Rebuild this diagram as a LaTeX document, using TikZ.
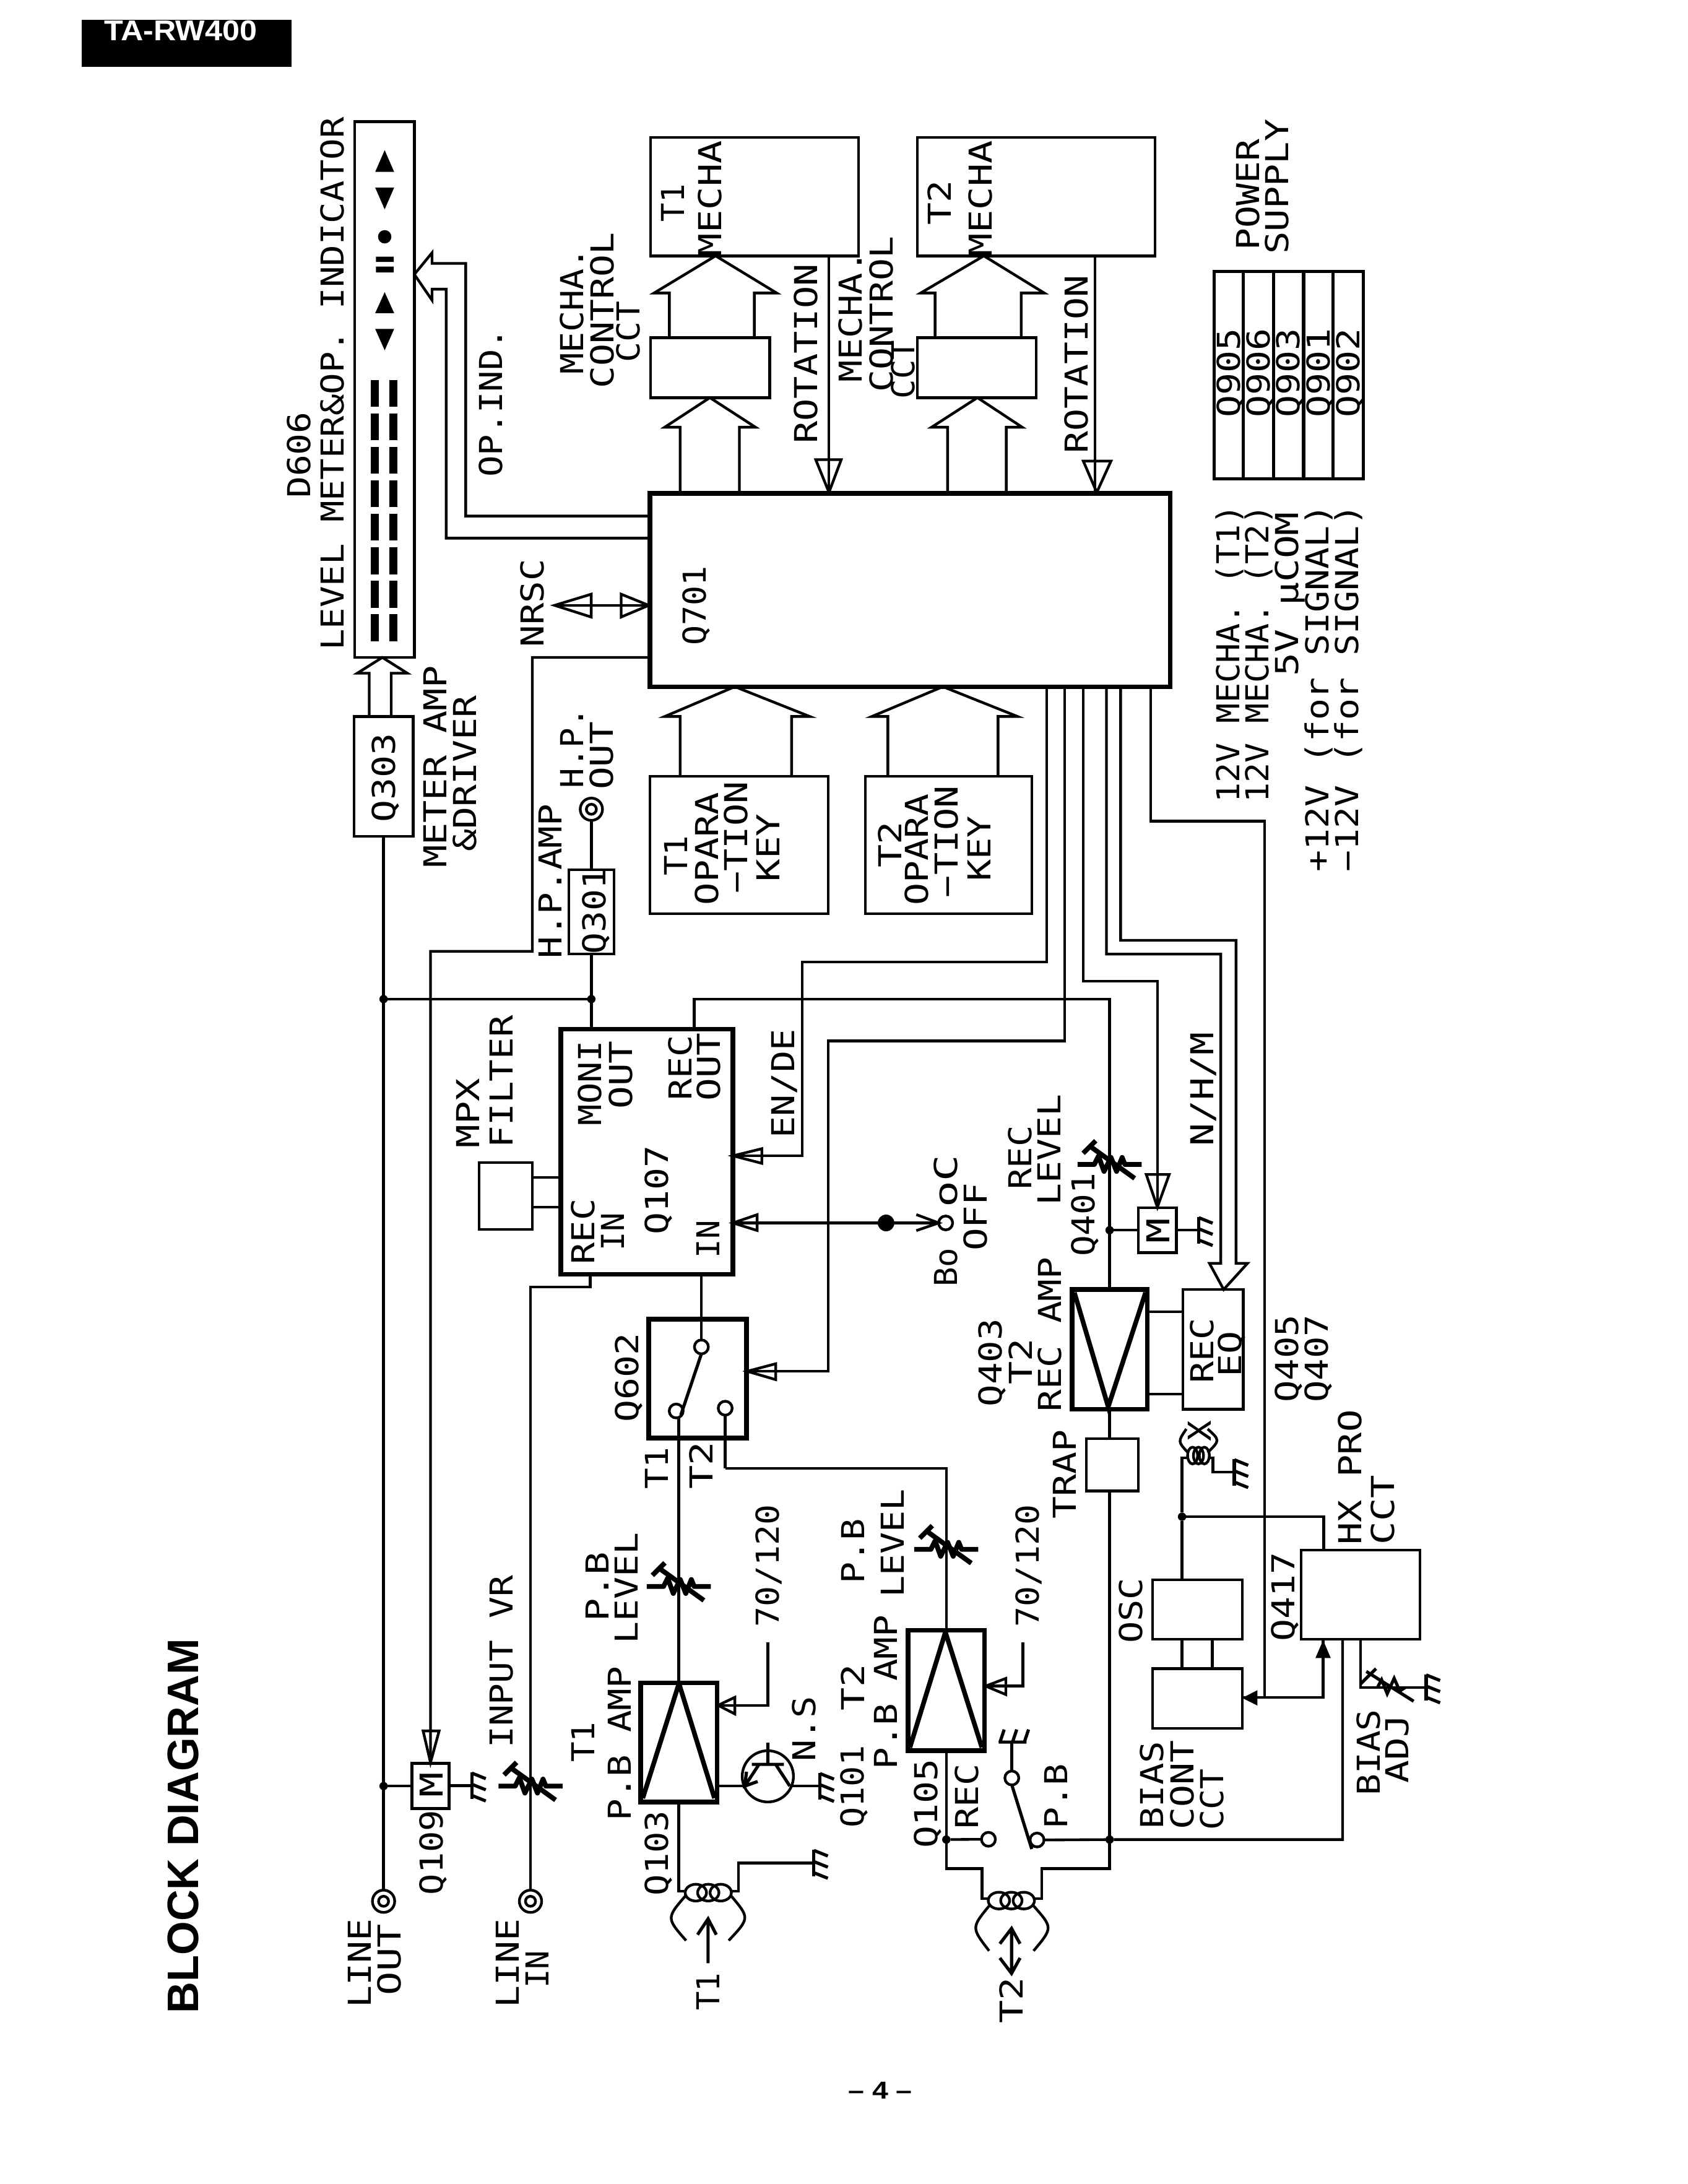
\documentclass[tikz,border=0pt]{standalone}
\usepackage{fontspec}
\usepackage{graphicx}
\setmainfont{Liberation Sans}
\newfontfamily\cadfont{DejaVu Sans Mono}
\newlength\txunit \setlength\txunit{0.02cm}
\newcounter{tc}
\tikzset{
 wire/.style={line width=1.1pt,line join=miter},
 thickln/.style={line width=1.9pt},
 boxthin/.style={draw,line width=1.1pt,inner sep=0,outer sep=0},
 boxthick/.style={draw,line width=1.9pt,inner sep=0,outer sep=0},
 lab/.style={rotate=90,anchor=base,inner sep=0,outer sep=0,font=\cadfont\fontsize{12.9}{14}\selectfont},
 dotn/.style={circle,fill=black,inner sep=0,outer sep=0,minimum size=0.12cm},
 contact/.style={circle,draw,fill=white,line width=1.1pt,inner sep=0,outer sep=0,minimum size=0.2cm},
 jackn/.style={circle,draw,line width=1.1pt,inner sep=0,outer sep=0,minimum size=0.32cm},
}
\newcommand\mytx[4]{\stepcounter{tc}\node[lab] (t\arabic{tc}) at ({#1+8.25},#2) {\resizebox{\dimexpr#3\txunit+2\txunit\relax}{\height}{#4}};}
\newcommand\mybx[6][boxthin]{\node[#1,minimum width={(#5-#3)*0.02cm},minimum height={(#6-#4)*0.02cm}] (#2) at ({(#3+#5)/2},{(#4+#6)/2}) {};}
\newcommand\myjack[3]{\node[jackn] (#1) at (#2,#3) {};\draw[wire] (#1.center) circle (3.6);}
\newcommand\myfat[8]{\draw[wire] (#1 -| #5,0) -- (#5,#8) -- (#4,#8) -- (#2 -| #3,0) -- (#7,#8) -- (#6,#8) -- (#1 -| #6,0);}
\newcommand\mytri[6]{\draw[wire] (#1,#2) -- (#3,#4) -- (#5,#6) -- cycle;}
\newcommand\mysolid[6]{\fill (#1,#2) -- (#3,#4) -- (#5,#6) -- cycle;}
\newcommand\mygnd[3]{\coordinate (#1) at (#2,#3);
 \draw[line width=1.3pt] (#2,#3-9.5) -- (#2,#3+9.5);
 \draw[line width=1.3pt] (#2,#3-9) -- ++(10,4) (#2,#3-1) -- ++(10,4) (#2,#3+7) -- ++(10,4);}
\newcommand\myvr[2]{\begin{scope}[shift={(#1,#2)},line width=2pt,line join=round]
 \draw (-23,0)--(-11,0)--(-8,-6)--(-4,5)--(1,-5)--(5,5)--(9,-5)--(11,0)--(23,0);
 \draw (-14,-13)--(18,10);
 \draw (-19,-8)--(-10,-17);
 \end{scope}}
\newcommand\mycoil[3]{\foreach \f in {0.22,0.5,0.78}{\draw[line width=1.1pt] ({#1+\f*(#2-#1)},#3) ellipse [x radius={0.24*(#2-#1)},y radius=6];}}
\begin{document}
\begin{tikzpicture}[x=0.02cm,y=-0.02cm]
\fill[white] (0,0) rectangle (1212,1568);
\useasboundingbox (0,0) rectangle (1212,1568);

%% header, title, footer
\node[fill=black,inner sep=0,outer sep=0,minimum width=3.01cm,minimum height=0.674cm] (hdr) at (134,31.05) {};
\node[anchor=base,inner sep=0,text=white,font=\bfseries\fontsize{11.7}{13}\selectfont] (hdrt) at (129.6,29.2) {\resizebox{109.7\txunit}{\height}{TA-RW400}};
\node[rotate=90,anchor=base,inner sep=0,font=\bfseries\fontsize{18}{20}\selectfont] (title) at (142.3,1310.9) {\resizebox{269\txunit}{\height}{BLOCK DIAGRAM}};
\node[anchor=base,inner sep=0,font=\bfseries\fontsize{10}{12}\selectfont] (foot) at (632,1506.7) {\resizebox{46\txunit}{\height}{\textendash~4~\textendash}};

\begin{scope}[font=\cadfont]
%% main boxes
\mybx{meter}{254.6}{87.4}{297.5}{472}
\mybx[boxthick]{q701}{466.6}{354.3}{840.3}{493}
\mybx{mecha1}{467}{98.7}{616.3}{183.7}
\mybx{mecha2}{658.7}{98.7}{829.3}{183.7}
\mybx{ctl1}{467}{242.4}{552.6}{285.5}
\mybx{ctl2}{658.7}{242.4}{743.9}{285.5}
\mybx{q303}{254.1}{514.4}{296.7}{600.3}
\mybx{q301}{408.4}{624.4}{440.8}{685}
\mybx{key1}{466.6}{557.2}{594.6}{656.1}
\mybx{key2}{621.4}{557.2}{740.8}{656.1}
\mybx[boxthick]{q107}{402.6}{738.8}{526.3}{914.9}
\mybx{mpx}{343.9}{834.6}{382.2}{882.8}
\mybx[boxthick]{q602}{465.8}{947}{536}{1032.4}
\mybx[boxthick]{q103}{460}{1208.1}{514.8}{1293.7}
\mybx[boxthick]{q105}{652}{1170.4}{706.9}{1256.8}
\mybx[boxthick]{q403}{769.7}{925.8}{823.7}{1011.7}
\mybx{eq}{849.2}{925.8}{892.6}{1011.7}
\mybx{trap}{779.9}{1033}{817.4}{1070.5}
\mybx{osc}{827.6}{1134.3}{891.9}{1177}
\mybx{bias}{827.6}{1198}{891.9}{1240.9}
\mybx{hx}{934.2}{1112.9}{1019.4}{1177}
\mybx{m109}{295.7}{1266}{322.5}{1298.5}
\mybx{m401}{817.4}{867.2}{844.6}{899.3}
\mybx[boxthin,line width=1.3pt]{tbl}{871.7}{194.8}{978.8}{343.9}
\draw[line width=1.3pt] (892.6,0 |- tbl.north) -- (892.6,0 |- tbl.south)
 (914.6,0 |- tbl.north) -- (914.6,0 |- tbl.south)
 (936,0 |- tbl.north) -- (936,0 |- tbl.south)
 (957.1,0 |- tbl.north) -- (957.1,0 |- tbl.south);

%% meter contents
\foreach \a/\b in {107.8/123.4,150.3/134.7,209.8/224.8,251.5/236.2}{\fill (276.2,\a) -- (269.4,\b) -- (283,\b) -- cycle;}
\fill (276.2,170) circle (4.8);
\fill (269.9,184.3) rectangle (282.7,188) (269.9,191.4) rectangle (282.7,195.6);
\foreach \i in {0,...,7}{\fill (266,{272.7+24.05*\i}) rectangle (272,{292+24.05*\i});
 \fill (279.6,{272.7+24.05*\i}) rectangle (285.2,{292+24.05*\i});}

%% junctions, contacts, jacks
\node[dotn] (j1) at (275.4,717.3) {};
\node[dotn] (j2) at (424.6,717.3) {};
\node[dotn] (j3) at (275.4,1282.3) {};
\node[dotn] (j4) at (796.7,883.2) {};
\node[dotn,minimum size=0.24cm] (j6) at (636.2,878) {};
\node[dotn] (j7) at (796.7,1320.7) {};
\node[dotn] (j8) at (679.45,1320.7) {};
\node[dotn] (j9) at (848.7,1088.9) {};
\myjack{jo}{275.4}{1365}
\myjack{ji}{380.9}{1365}
\myjack{jh}{424.6}{581}
\node[contact] (c1) at (503.6,967) {};
\node[contact] (c2) at (485.5,1013) {};
\node[contact] (c3) at (520.7,1011) {};
\node[contact] (c4) at (679,878) {};
\node[contact] (c5) at (726.5,1276.5) {};
\node[contact] (c6) at (709.7,1320.5) {};
\node[contact] (c7) at (744.6,1321) {};
\node[circle,draw,line width=1.1pt,inner sep=0,outer sep=0,minimum size=0.736cm] (tr) at (551.3,1275.3) {};

%% grounds
\mygnd{g1}{338.8}{1282}
\mygnd{g2}{588.8}{1282.3}
\mygnd{g3}{584.4}{1337.5}
\mygnd{g4}{860.7}{883.2}
\mygnd{g5}{886.2}{1057}
\mygnd{g6}{1024}{1211.5}

%% fat arrows
\myfat{q701.north}{ctl1.south}{509.7}{477.3}{488.3}{530.9}{542.4}{306.7}
\myfat{ctl1.north}{mecha1.south}{513.8}{469.6}{480.6}{541.6}{557.7}{210.4}
\myfat{q701.north}{ctl2.south}{701.8}{668.9}{680.4}{722.5}{733.9}{306.7}
\myfat{ctl2.north}{mecha2.south}{706.4}{661}{671.4}{733.2}{749.8}{210.4}
\myfat{key1.north}{q701.south}{527.6}{477.3}{488.3}{568.4}{581.4}{514.4}
\myfat{key2.north}{q701.south}{677}{626}{637.5}{716.6}{730.6}{514.4}
\myfat{q303.north}{meter.south}{274.5}{256.6}{265.1}{280.9}{292.4}{483.3}

%% OP.IND double line arrow
\draw[wire] (q701.west |- 0,370.5) -- (334.4,370.5) -- (334.4,189.1) -- (310.2,189.1) -- (310.2,181.5) -- (meter.east |- 0,197) -- (310.2,215.5) -- (310.2,207.6) -- (320.4,207.6) -- (320.4,386.4) -- (q701.west |- 0,386.4);

%% rotation
\draw[wire] (mecha1.south -| 595.2,0) -- (q701.north -| 595.2,0);
\mytri{585.7}{330}{604}{330}{595.2}{353.5}
\draw[wire] (mecha2.south -| 786.2,0) -- (q701.north -| 786.2,0);
\mytri{777.8}{331}{797.7}{331}{787.5}{353.5}

%% NRSC
\draw[wire] (398.2,434.6) -- (q701.west |- 0,434.6);
\mytri{398.2}{434.6}{424.5}{426.6}{424.5}{443}
\mytri{465.8}{434.6}{446}{426.6}{446}{443}

%% signal wires
\draw[wire] (q303.south) -- (jo.north);
\draw[wire] (j1) -- (j2);
\draw[wire] (j3) -- (m109.west |- j3);
\draw[wire] (m109.east |- g1) -- (g1);
\draw[wire] (q701.west |- 0,472) -- (382.2,472) -- (382.2,683) -- (309.1,683) -- (m109.north);
\mytri{303.8}{1242.7}{315.3}{1242.7}{309.1}{1265.4}
\draw[wire] (jh.south) -- (q301.north -| jh.south);
\draw[wire] (q301.south -| j2) -- (q107.north -| j2);
\draw[wire] (mpx.east |- 0,845.4) -- (q107.west |- 0,845.4);
\draw[wire] (mpx.east |- 0,866.7) -- (q107.west |- 0,866.7);
\draw[wire] (q107.south -| 423.7,0) -- (423.7,923.9) -| (ji.north);
\myvr{380.9}{1282.3}
\draw[wire] (q107.south -| c1.north) -- (c1.north);
\draw[line width=1.3pt] (c1.south) -- (488.8,1016);
\draw[wire] (q103.north) -- (q103.north |- c2.south);
\draw[wire] (c3.south |- 0,1054.2) -| (q105.north);
\draw[wire] (c3.south) -- (c3.south |- 0,1054.2);
\myvr{487.4}{1139}
\myvr{679.4}{1112.3}
\draw[wire] (q107.north -| 498.5,0) -- (498.5,717.3) -| (q403.north);
\myvr{796.7}{836}
\draw[wire] (j4) -- (m401.west |- j4);
\draw[wire] (m401.east |- g4) -- (g4);
\draw[wire] (q701.south -| 751.5,0) -- (751.5,690.7) -- (576,690.7) -- (576,829.8) -- (q107.east |- 0,829.8);
\mytri{526.3}{829.8}{547}{824.7}{547}{835.2}
\draw[wire] (q701.south -| 764.3,0) -- (764.3,747.4) -- (594.6,747.4) -- (594.6,984.5) -- (q602.east |- 0,984.5);
\mytri{536.5}{984.5}{557}{979.1}{557}{990.5}
\draw[wire] (q107.east |- j6) -- (j6) -- (c4.west);
\draw[wire] (657.9,872) -- (c4.west) -- (657.9,883.5);
\mytri{526.3}{878}{543.6}{872.1}{543.6}{883.4}
\draw[wire] (q701.south -| 777.8,0) -- (777.8,704.3) -- (831,704.3) -- (m401.north);
\mytri{823}{843.2}{839.5}{843.2}{831}{866.7}
\draw[wire] (q701.south -| 794.4,0) -- (794.4,685) -- (876.5,685) -- (876.5,907) -- (868.4,907) -- (eq.north -| 878.6,0) -- (895.7,907) -- (887.5,907) -- (887.5,675.1) -- (804.6,675.1) -- (q701.south -| 804.6,0);
\draw[wire] (q701.south -| 826.3,0) -- (826.3,589.5) -- (907.9,589.5) -- (907.9,1218.7);
\draw[wire] (bias.east |- 0,1218.7) -- (950,1218.7) -- (hx.south -| 950,0);
\mysolid{891.9}{1219}{902.8}{1213.5}{902.8}{1224.5}
\mysolid{950}{1177.5}{944.5}{1190.4}{955.5}{1190.4}
\draw[wire] (q403.east |- 0,941.7) -- (eq.west |- 0,941.7);
\draw[wire] (q403.east |- 0,1000.9) -- (eq.west |- 0,1000.9);
\draw[wire] (q403.south) -- (trap.north -| q403.south);
\coordinate (h2a) at (710.2,1363.2);
\coordinate (h2b) at (742.1,1363.2);
\draw[wire] (trap.south -| j7) -- (j7) -- (796.7,1341.6) -- (748,1341.6) -- (748,1363.2) -- (h2b);
\draw[wire] (q105.south) -- (j8) -- (679.45,1341.6) -- (705.1,1341.6) -- (705.1,1363.2) -- (h2a);
\draw[wire] (j8) -- (c6.west);
\draw[wire] (c7.east) -- (j7) -- (964,1320.7) -- (hx.south -| 964,0);
\draw[line width=1.3pt] (c5.south) -- (740.8,1327.5);
\coordinate (gt) at (726.5,1250.7);
\draw[wire] (c5.north) -- (gt);
\draw[line width=1.3pt] (717,1250.7) -- (737,1250.7) (718,1250.7) -- (721,1241.7) (727,1250.7) -- (730,1241.7) (735.5,1250.7) -- (738.5,1241.7);

%% amp triangles
\draw[thickln] (487.5,1208.6) -- (461.5,1291) (487.5,1208.6) -- (513,1291);
\draw[thickln] (678.8,1171.8) -- (653.3,1254.6) (678.8,1171.8) -- (705,1254.6);
\draw[thickln] (771.4,928) -- (795.7,1010) -- (822.5,928);

%% Q103 control & transistor
\draw[wire] (551.3,1178.9) -- (551.3,1224.3) -- (q103.east |- 0,1224.3);
\mytri{515.6}{1224.3}{527.6}{1218.6}{527.6}{1230.5}
\draw[wire] (734.4,1178.9) -- (734.4,1210.5) -- (q105.east |- 0,1210.5);
\mytri{707.7}{1210.5}{722.2}{1205}{722.2}{1216.6}
\draw[wire] (q103.east |- 0,1282.3) -- (534,1282.3);
\draw[wire] (567.1,1282.3) -- (g2);
\draw[line width=1.3pt] (551.3,1251.2) -- (551.3,1266.7) (539.8,1266.7) -- (562.8,1266.7) (556.9,1266.7) -- (567.1,1282.3) (545,1266.7) -- (534.7,1282.3) (536,1272) -- (534.7,1282.3) -- (544,1279);

%% tape heads
\coordinate (h1a) at (492.6,1357.8);
\coordinate (h1b) at (524.5,1357.8);
\draw[wire] (q103.south) |- (h1a);
\draw[wire] (h1b) -- (530.1,1357.8) |- (g3);
\mycoil{492.6}{524.5}{1358.8}
\draw[line width=1.1pt] (492.6,1360.6) .. controls (478.4,1377) .. (492.6,1393.2);
\draw[line width=1.1pt] (524.5,1360.6) .. controls (538.4,1377) .. (523.2,1393.2);
\draw[line width=1.3pt] (508.4,1409.5) -- (508.4,1377.6) (500.8,1389) -- (508.4,1377.6) -- (514.3,1389);
\mycoil{710.2}{742.1}{1364.5}
\draw[line width=1.1pt] (710.2,1368.3) .. controls (697.4,1384) .. (710.2,1400.6);
\draw[line width=1.1pt] (742.1,1368.3) .. controls (756,1384) .. (742.1,1400.6);
\draw[line width=1.3pt] (726.3,1384.5) -- (726.3,1416.8) (717.9,1395.5) -- (726.3,1384.5) -- (732.4,1395.5) (717.9,1405.7) -- (726.3,1416.8) -- (732.4,1405.7);

%% OSC / erase head / HX / bias
\draw[wire] (osc.north -| j9) -- (j9) -- (848.7,1046.6) -- (853,1046.6);
\draw[wire] (j9) -- (950.5,1088.9) -- (hx.north -| 950.5,0);
\draw[wire] (osc.south -| j9) -- (bias.north -| j9);
\draw[wire] (osc.south -| 870.4,0) -- (bias.north -| 870.4,0);
\mycoil{853}{868}{1045}
\draw[wire] (868,1046.6) -- (870.9,1046.6) -- (870.9,1057) -- (g5);
\draw[line width=1.1pt] (853,1042.9) .. controls (845.6,1035) .. (851.8,1025.9);
\draw[line width=1.1pt] (867.1,1042.9) .. controls (876,1034) .. (867.1,1025.9);
\draw[wire] (hx.south -| 976.8,0) -- (976.8,1211.5) -- (g6);
\draw[line width=1.3pt] (981,1200) -- (1015,1221.4) (976.8,1209) -- (988,1198) (989,1211.5) -- (992,1206) -- (996,1216) -- (1001,1205) -- (1005,1214) -- (1009,1211.5);

%% labels
\mytx{214.8}{326.7}{60}{D606}
\mytx{238.5}{275.5}{381}{LEVEL METER\&OP. INDICATOR}
\mytx{483.2}{145.7}{25}{T1}
\mytx{509.8}{142.5}{81}{MECHA}
\mytx{674.8}{145.6}{30}{T2}
\mytx{704}{142.5}{81}{MECHA}
\mytx{410.6}{223.3}{89}{MECHA.}
\mytx{432.4}{222.7}{110}{CONTROL}
\mytx{451.2}{238.2}{42}{CCT}
\mytx{610.6}{227.3}{92}{MECHA.}
\mytx{632.7}{225.4}{110}{CONTROL}
\mytx{648.3}{265.4}{40}{CCT}
\mytx{578.7}{254}{127}{ROTATION}
\mytx{772.9}{261.5}{126}{ROTATION}
\mytx{352.6}{289}{105}{OP.IND.}
\mytx{382}{433}{61}{NRSC}
\mytx{498.7}{435}{55}{Q701}
\mytx{275.5}{558.3}{62}{Q303}
\mytx{312.3}{550.5}{143}{METER AMP}
\mytx{333.7}{555.5}{110}{\&DRIVER}
\mytx{426.6}{654}{60}{Q301}
\mytx{395}{632.7}{109}{H.P.AMP}
\mytx{410.7}{537}{56}{H.P.}
\mytx{432}{542.5}{47}{OUT}
\mytx{485.2}{614.3}{27}{T1}
\mytx{507.3}{609.4}{79}{OPARA}
\mytx{528.3}{601.3}{78.5}{−TION}
\mytx{551.4}{608.7}{47}{KEY}
\mytx{639}{606.5}{31}{T2}
\mytx{658}{610}{78}{OPARA}
\mytx{679.5}{604.2}{78.5}{−TION}
\mytx{703}{609.3}{45}{KEY}
\mytx{423.7}{777.5}{59}{MONI}
\mytx{445.8}{771.8}{47}{OUT}
\mytx{488.4}{766.7}{45}{REC}
\mytx{509}{766}{47}{OUT}
\mytx{471.6}{854.5}{62}{Q107}
\mytx{418.8}{884.2}{45}{REC}
\mytx{440}{884.3}{25}{IN}
\mytx{508.5}{889.7}{25}{IN}
\mytx{335.8}{799.2}{48}{MPX}
\mytx{360}{776.5}{93}{FILTER}
\mytx{562.4}{778}{76}{EN/DE}
\mytx{679}{909.8}{26}{Bo}
\mytx{679}{848}{36}{oC}
\mytx{700.4}{873.6}{47}{OFF}
\mytx{732.5}{831}{44}{REC}
\mytx{753.3}{825.5}{78}{LEVEL}
\mytx{777.6}{872.2}{58}{Q401}
\mytx{831.3}{883.5}{16}{M}
\mytx{862.9}{782}{80}{N/H/M}
\mytx{711.2}{978.4}{61}{Q403}
\mytx{732.8}{977.7}{31}{T2}
\mytx{753.6}{958}{109}{REC AMP}
\mytx{862.9}{969.7}{45}{REC}
\mytx{883}{972}{31}{EQ}
\mytx{923.9}{975.5}{61}{Q405}
\mytx{945.5}{975.5}{61}{Q407}
\mytx{764.4}{1058.5}{62}{TRAP}
\mytx{861.3}{1027.3}{13}{X}
\mytx{450.2}{989}{62}{Q602}
\mytx{471.6}{1054}{28}{T1}
\mytx{503.5}{1052}{32}{T2}
\mytx{428.8}{1139}{48}{P.B}
\mytx{449.9}{1140}{78}{LEVEL}
\mytx{551.2}{1124.4}{86}{70/120}
\mytx{360}{1193}{122}{INPUT VR}
\mytx{418.5}{1250.7}{27}{T1}
\mytx{444.8}{1251.8}{109}{P.B AMP}
\mytx{577.4}{1241.3}{45}{N.S}
\mytx{309.6}{1281.6}{16}{M}
\mytx{309.6}{1330}{59}{Q109}
\mytx{471.6}{1330.4}{59}{Q103}
\mytx{612}{1282.7}{57}{Q101}
\mytx{612.4}{1211.5}{31}{T2}
\mytx{612.5}{1113.7}{45}{P.B}
\mytx{635.9}{1215}{109}{P.B AMP}
\mytx{641}{1108}{76}{LEVEL}
\mytx{737.6}{1124.4}{86}{70/120}
\mytx{664.9}{1294.8}{62}{Q105}
\mytx{694.3}{1289.7}{45}{REC}
\mytx{758.3}{1289.6}{45}{P.B}
\mytx{827.2}{1281.6}{61}{BIAS}
\mytx{848.8}{1281.6}{62}{CONT}
\mytx{870}{1292.2}{42}{CCT}
\mytx{811.8}{1156.3}{45}{OSC}
\mytx{921.3}{1146.3}{62}{Q417}
\mytx{969.2}{1060.6}{95}{HX PRO}
\mytx{992.7}{1084}{48}{CCT}
\mytx{982.5}{1258.2}{60}{BIAS}
\mytx{1002.9}{1255.7}{47}{ADJ}
\mytx{258}{1409.5}{62}{LINE}
\mytx{279.6}{1407}{49}{OUT}
\mytx{364.3}{1409.5}{62}{LINE}
\mytx{385.7}{1413.8}{25}{IN}
\mytx{508.2}{1430}{25}{T1}
\mytx{726.1}{1436}{31}{T2}
\mytx{895.8}{139.6}{78}{POWER}
\mytx{916.7}{134}{95}{SUPPLY}
\mytx{882.4}{267.9}{62}{Q905}
\mytx{903.6}{267.9}{62}{Q906}
\mytx{925}{267.9}{62}{Q903}
\mytx{946.7}{267.9}{62}{Q901}
\mytx{967.9}{267.9}{62}{Q902}
\mytx{881.8}{469.2}{212}{12V MECHA. (T1)}
\mytx{902.8}{469.2}{212}{12V MECHA. (T2)}
\mytx{924.1}{426.6}{116}{5V  µCOM}
\mytx{945.9}{494}{262}{+12V  (for SIGNAL)}
\mytx{967.2}{494}{262}{−12V  (for SIGNAL)}
\end{scope}
\end{tikzpicture}
\end{document}
